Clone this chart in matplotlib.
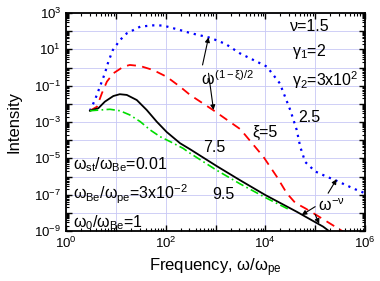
import matplotlib
matplotlib.use('Agg')
import matplotlib.pyplot as plt
import numpy as np
from matplotlib.ticker import LogLocator, FuncFormatter, NullFormatter

plt.rcParams['font.family'] = ['Liberation Sans', 'DejaVu Sans']
plt.rcParams['mathtext.fontset'] = 'custom'
plt.rcParams['mathtext.rm'] = 'Liberation Sans'
plt.rcParams['mathtext.it'] = 'Liberation Sans'
plt.rcParams['mathtext.bf'] = 'Liberation Sans:bold'

# curves, as log10(omega/omega_pe) and log10(intensity)
xi25_logw = [0.48, 0.58, 0.68, 0.78, 0.85, 0.94, 1.08, 1.22, 1.49, 1.75, 1.95, 2.29, 2.49,
             2.89, 3.2, 3.49, 4.03, 4.29, 4.50, 4.63, 4.70, 4.80, 5.0, 5.2, 5.4, 5.6, 5.8, 6.0]
xi25_logI = [-2.38, -1.79, -1.06, -0.32, 0.32, 0.96, 1.5, 1.88, 2.25, 2.32, 2.31, 2.06, 1.9,
             1.64, 1.3, 0.78, 0.05, -0.87, -2.34, -3.44, -4.36, -5.2, -5.72, -5.97, -6.2,
             -6.45, -6.7, -6.92]

xi5_logw = [0.48, 0.62, 0.72, 0.82, 0.95, 1.15, 1.28, 1.49, 1.75, 2.02, 2.29, 2.49, 2.95,
            3.5, 3.96, 4.23, 4.43, 4.6, 4.8, 5.0, 5.2, 5.4, 5.57]
xi5_logI = [-2.38, -2.16, -1.42, -0.78, -0.32, 0.04, 0.14, 0.08, -0.14, -0.51, -1.06, -1.51,
            -2.34, -3.4, -4.91, -6.01, -6.92, -7.45, -7.75, -8.08, -8.42, -8.76, -9.05]

xi75_logw = [0.48, 0.65, 0.78, 0.95, 1.08, 1.22, 1.42, 1.62, 1.82, 2.02, 2.29, 2.49, 3.02,
             3.49, 4.0, 4.63, 5.16, 5.3]
xi75_logI = [-2.38, -2.24, -1.88, -1.57, -1.47, -1.51, -1.79, -2.34, -2.98, -3.55, -4.17,
             -4.5, -5.42, -6.2, -7.02, -7.94, -8.76, -9.05]

xi95_logw = [0.48, 0.68, 0.88, 1.08, 1.28, 1.49, 1.69, 1.89, 2.09, 2.35, 2.49, 3.02, 3.49,
             4.03, 4.5]
xi95_logI = [-2.38, -2.34, -2.3, -2.38, -2.61, -2.98, -3.44, -3.81, -4.08, -4.45, -4.72,
             -5.65, -6.4, -7.2, -7.85]


def p10(v):
    return np.power(10.0, v)


fig = plt.figure(figsize=(3.8, 2.81), dpi=100)
ax = fig.add_axes([66 / 380, 1 - 231 / 281, 299 / 380, 218 / 281])

ax.plot(p10(xi25_logw), p10(xi25_logI), color='blue', ls=(0, (1, 2.2)), lw=1.6)
ax.plot(p10(xi5_logw), p10(xi5_logI), color='red', ls=(0, (5, 3.5)), lw=1.3)
ax.plot(p10(xi75_logw), p10(xi75_logI), color='black', ls='-', lw=1.3)
ax.plot(p10(xi95_logw), p10(xi95_logI), color='#00dd00', ls=(0, (5, 2, 1, 2)), lw=1.2)

ax.set_xscale('log')
ax.set_yscale('log')
ax.set_xlim(1, 1e6)
ax.set_ylim(1e-9, 1e3)

ax.xaxis.set_major_locator(LogLocator(base=10, numticks=20))
ax.yaxis.set_major_locator(LogLocator(base=10, numticks=30))
ax.xaxis.set_minor_locator(LogLocator(base=10, subs=np.arange(2, 10), numticks=30))
ax.yaxis.set_minor_locator(LogLocator(base=10, subs=np.arange(2, 10), numticks=30))
ax.xaxis.set_minor_formatter(NullFormatter())
ax.yaxis.set_minor_formatter(NullFormatter())


def xfmt(v, pos):
    e = int(round(np.log10(v)))
    return r'$10^{%d}$' % e if e % 2 == 0 else ''


def yfmt(v, pos):
    e = int(round(np.log10(v)))
    return r'$10^{%d}$' % e if e % 2 != 0 else ''


ax.xaxis.set_major_formatter(FuncFormatter(xfmt))
ax.yaxis.set_major_formatter(FuncFormatter(yfmt))

ax.tick_params(which='both', direction='in', top=True, right=True, labelsize=9.5)
ax.tick_params(which='major', length=4, width=1)
ax.tick_params(which='minor', length=2, width=0.8)
for s in ax.spines.values():
    s.set_linewidth(1.3)

ax.grid(True, which='major', color='#c8c8f5', lw=0.6)
ax.set_axisbelow(True)

ax.set_xlabel(r'Frequency, $\omega/\omega_{pe}$', fontsize=12)
ax.set_ylabel('Intensity', fontsize=12)
ax.xaxis.set_label_coords(0.5, -0.115)
ax.yaxis.set_label_coords(-0.15, 0.5)

fs = 11.5
ax.text(p10(4.50), p10(2.03), 'ν=1.5', fontsize=fs, va='baseline')
ax.text(p10(4.535), p10(0.62), r'$\gamma_1$=2', fontsize=fs, va='baseline')
ax.text(p10(4.535), p10(-1.04), r'$\gamma_2$=3x10$^2$', fontsize=fs, va='baseline')
ax.text(p10(4.66), p10(-2.98), '2.5', fontsize=fs, va='baseline')
ax.text(p10(3.75), p10(-3.84), 'ξ=5', fontsize=fs, va='baseline')
ax.text(p10(2.75), p10(-4.63), '7.5', fontsize=fs, va='baseline')
ax.text(p10(2.93), p10(-7.22), '9.5', fontsize=fs, va='baseline')
ax.text(p10(0.14), p10(-5.58), r'$\omega_{st}/\omega_{Be}$=0.01', fontsize=fs, va='baseline')
ax.text(p10(0.14), p10(-7.28), r'$\omega_{Be}/\omega_{pe}$=3x10$^{-2}$', fontsize=fs, va='baseline')
ax.text(p10(0.14), p10(-8.80), r'$\omega_0/\omega_{Be}$=1', fontsize=fs, va='baseline')
ax.text(p10(2.70), p10(-0.97), r'$\omega^{(1-\xi)/2}$', fontsize=fs, va='baseline')
ax.text(p10(5.06), p10(-7.90), r'$\omega^{-\nu}$', fontsize=fs, va='baseline')

arrow = dict(arrowstyle='-|>', color='k', lw=0.8, mutation_scale=7, shrinkA=0, shrinkB=0)
ax.annotate('', xy=(p10(2.86), p10(1.66)), xytext=(p10(2.74), p10(0.14)), arrowprops=arrow)
ax.annotate('', xy=(p10(2.96), p10(-2.34)), xytext=(p10(2.86), p10(-0.32)), arrowprops=arrow)
ax.annotate('', xy=(p10(5.43), p10(-6.15)), xytext=(p10(5.26), p10(-6.92)), arrowprops=arrow)
ax.annotate('', xy=(p10(4.73), p10(-8.12)), xytext=(p10(5.0), p10(-7.66)), arrowprops=arrow)
ax.annotate('', xy=(p10(5.08), p10(-8.6)), xytext=(p10(5.0), p10(-8.09)), arrowprops=arrow)

fig.savefig('out.png', dpi=100)
